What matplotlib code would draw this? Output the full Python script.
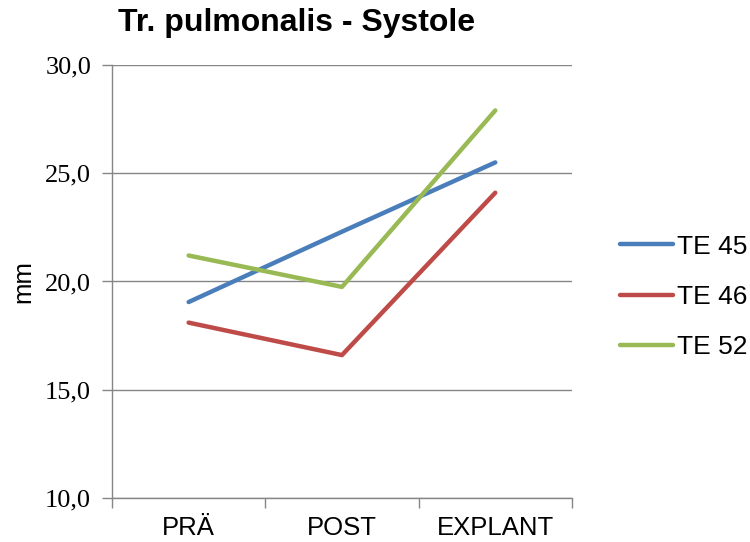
import matplotlib.pyplot as plt
from matplotlib.ticker import FixedLocator

categories = ['PRÄ', 'POST', 'EXPLANT']
te45 = [19.05, 22.3, 25.5]
te46 = [18.1, 16.6, 24.1]
te52 = [21.2, 19.75, 27.9]
series = [('TE 45', te45, '#4A7EBB'), ('TE 46', te46, '#BE4B48'), ('TE 52', te52, '#98B954')]
yticks = [10, 15, 20, 25, 30]

fig = plt.figure(figsize=(7.5, 5.42), dpi=100)
ax = fig.add_axes([0.1493, 0.0812, 0.6133, 0.7989])

x = list(range(len(categories)))
for name, vals, col in series:
    ax.plot(x, vals, color=col, linewidth=3.2, label=name, solid_capstyle='round')

ax.set_xlim(-0.5, len(categories) - 0.5)
ax.set_ylim(10, 30)
ax.set_yticks(yticks)
ax.set_yticklabels([f'{v:.1f}'.replace('.', ',') for v in yticks],
                   fontfamily='Liberation Serif', fontsize=19)
ax.yaxis.grid(True, color='#868686', linewidth=1)
ax.set_axisbelow(True)

ax.set_xticks(x)
ax.set_xticklabels(categories, fontfamily='Liberation Sans', fontsize=18.5)
ax.xaxis.set_minor_locator(FixedLocator([-0.5, 0.5, 1.5, 2.5]))
ax.tick_params(axis='x', which='major', length=0, pad=13)
ax.tick_params(axis='x', which='minor', length=7, color='#868686', width=1)
ax.tick_params(axis='y', length=7, color='#868686', width=1, pad=8)

for s in ['top', 'right']:
    ax.spines[s].set_visible(False)
for s in ['left', 'bottom']:
    ax.spines[s].set_color('#868686')
    ax.spines[s].set_linewidth(1)

ax.set_ylabel('mm', fontfamily='Liberation Sans', fontsize=18.5, labelpad=7)
fig.text(0.396, 0.958, 'Tr. pulmonalis - Systole', ha='center', va='center',
         fontfamily='Liberation Sans', fontweight='bold', fontsize=23)

ax.legend(loc='center left', bbox_to_anchor=(0.827, 0.452),
          bbox_transform=fig.transFigure, frameon=False, borderaxespad=0, borderpad=0,
          prop={'family': 'Liberation Sans', 'size': 19},
          handlelength=2.0, handletextpad=0.15, labelspacing=1.0)

fig.savefig('out.png', dpi=100)
